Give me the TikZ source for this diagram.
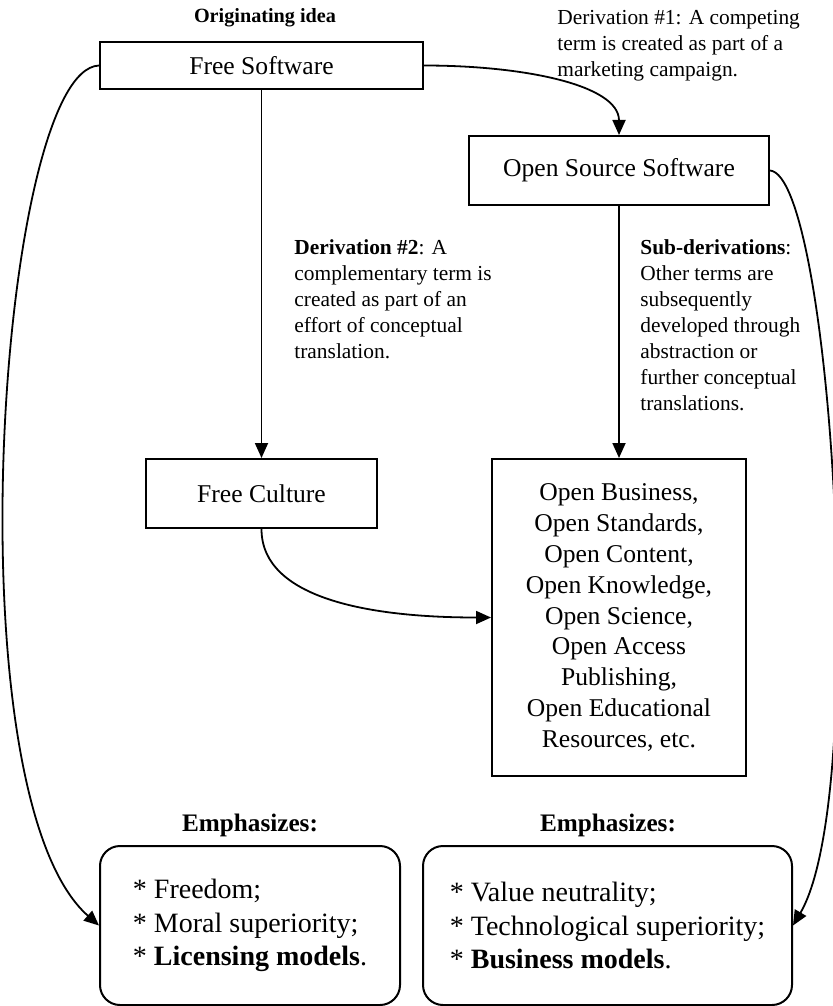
\documentclass[tikz,border=0pt]{standalone}
\usepackage{fontspec}
\setmainfont{Liberation Serif}
\usetikzlibrary{arrows.meta}

\begin{document}
\begin{tikzpicture}[x=0.5pt,y=-0.5pt,
    box/.style={draw, line width=1pt, inner sep=0pt, align=center,
      font=\fontsize{12.8}{15.45}\selectfont},
    roundbox/.style={draw, line width=1pt, rounded corners=10pt, inner sep=0pt,
      align=left, minimum height=79.5pt, font=\fontsize{14}{16.7}\selectfont},
    note/.style={anchor=north west, inner sep=0pt, align=left,
      font=\fontsize{10.7}{13}\selectfont},
    heading/.style={inner sep=0pt, font=\bfseries\fontsize{12.6}{15}\selectfont},
    link/.style={line width=0.9pt, -{Triangle[length=7.5pt,width=6.5pt]}}]
  \useasboundingbox (0,0) rectangle (833,1006);

  % terms
  \node[inner sep=0pt, font=\bfseries\fontsize{10.1}{12}\selectfont] (orig) at (265,18) {Originating idea};
  \node[box, minimum width=161.5pt, minimum height=23.5pt] (fs) at (261.5,65.5) {Free Software};
  \node[box, minimum width=150pt, minimum height=34.5pt] (oss) at (619,170.5) {Open Source Software};
  \node[box, minimum width=115.5pt, minimum height=34.5pt] (fc) at (261.5,493.5) {Free Culture};
  \node[box, minimum width=127pt, minimum height=158.5pt] (ob) at (619,617.5)
    {Open Business,\\Open Standards,\\Open Content,\\Open Knowledge,\\Open Science,\\Open Access\\Publishing,\\Open Educational\\Resources, etc.};

  % derivations
  \node[note] (d1) at (557,9.5) {Derivation \#1: A competing\\term is created as part of a\\marketing campaign.};
  \node[note] (d2) at (294,239.5) {\textbf{Derivation \#2}: A\\complementary term is\\created as part of an\\effort of conceptual\\translation.};
  \node[note] (d3) at (640,239.5) {\textbf{Sub-derivations}:\\Other terms are\\subsequently\\developed through\\abstraction or\\further conceptual\\translations.};

  % emphasis
  \node[heading] (eml) at (250,825) {Emphasizes:};
  \node[heading] (emr) at (608,825) {Emphasizes:};
  \node[roundbox, minimum width=150pt] (lb) at (250,925.5)
    {* Freedom;\\* Moral superiority;\\* \textbf{Licensing models}.};
  \node[roundbox, minimum width=184.5pt] (rb) at (607.5,925.5)
    {* Value neutrality;\\* Technological superiority;\\* \textbf{Business models}.};

  \draw[link] (fs.east) .. controls +(100,0) and +(0,-50) .. (oss.north);
  \draw[link] (fs.south) -- (fc.north);
  \draw[link] (oss.south) -- (ob.north);
  \draw[link] (fc.south) .. controls +(0,70) and +(-120,0) .. (ob.west);
  \draw[link] (fs.west) .. controls +(-100,4) and +(-150,-132) .. (lb.west);
  \draw[link] (oss.east) .. controls +(61,5) and +(77,-131.5) .. (rb.east);
\end{tikzpicture}
\end{document}
